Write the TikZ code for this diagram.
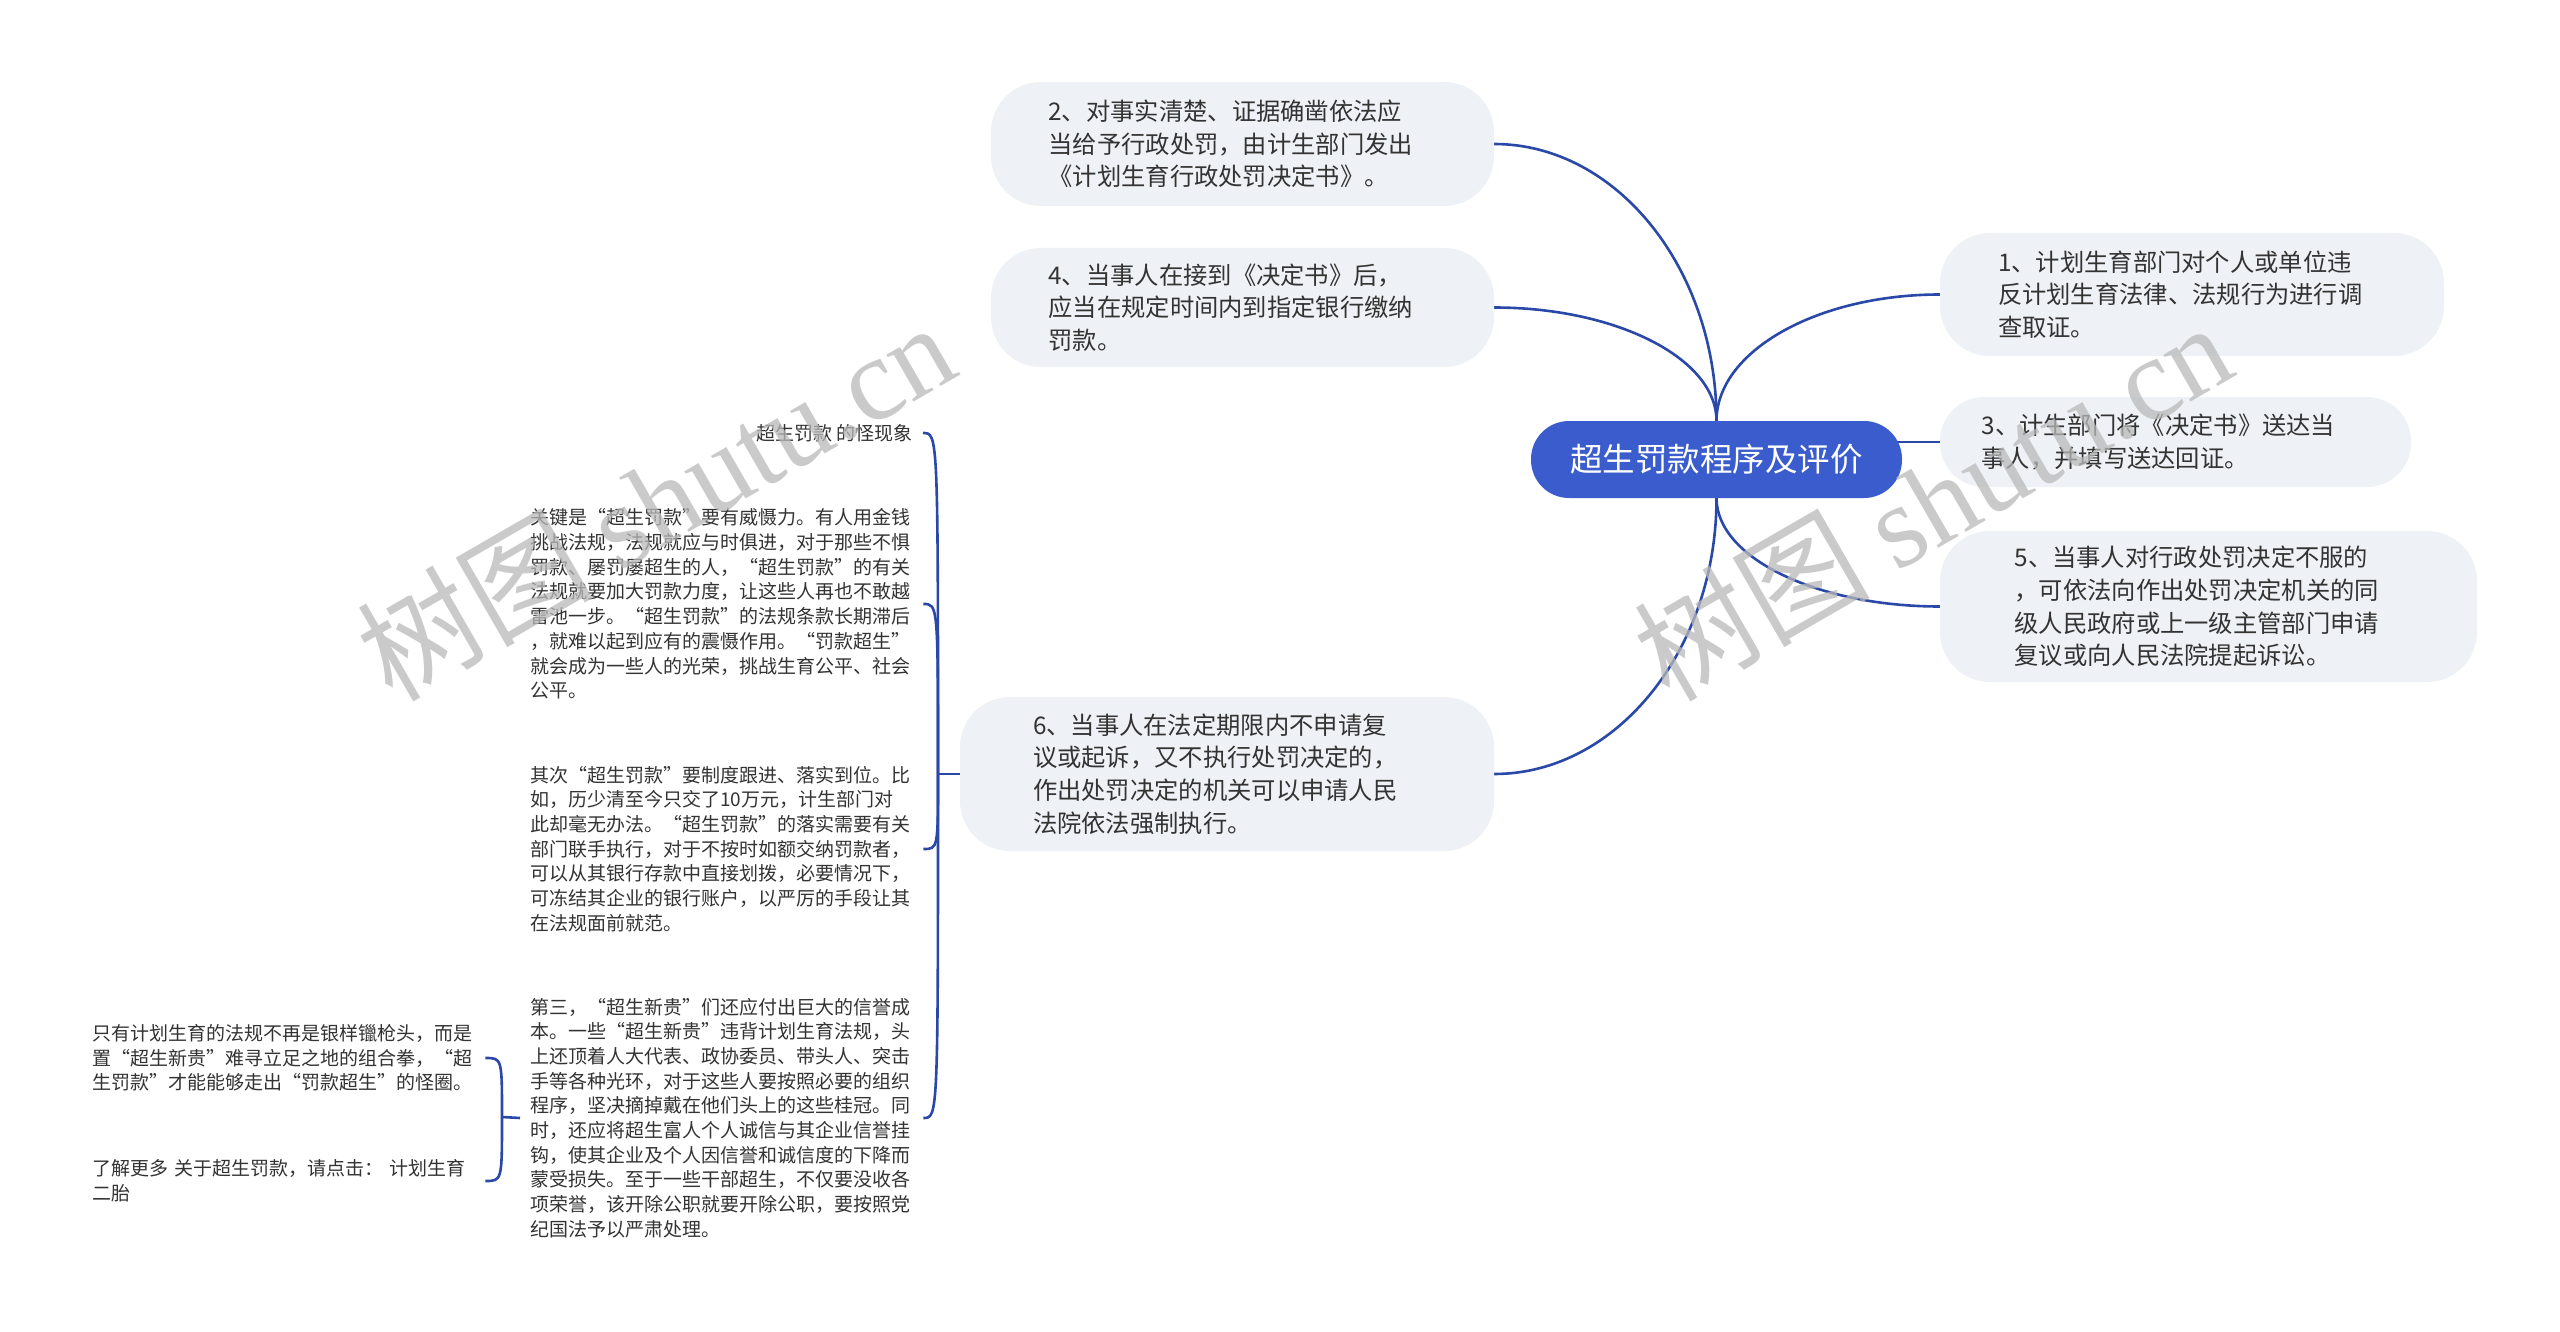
\documentclass[tikz,border=0pt]{standalone}
\usepackage{fontspec}
\setmainfont{Noto Sans CJK SC}
\newfontfamily\wmlatin{Liberation Serif}
\usetikzlibrary{backgrounds,calc}
\definecolor{linkblue}{RGB}{42,72,168}
\definecolor{rootblue}{RGB}{59,92,204}
\definecolor{boxgray}{RGB}{238,241,245}
\definecolor{txtgray}{RGB}{51,51,51}
\definecolor{wmgray}{RGB}{185,185,185}
\begin{document}
\begin{tikzpicture}[x=1pt,y=-1pt,
  link/.style={draw=linkblue,line width=2.6pt},
  topic/.style={fill=boxgray,rounded corners=50pt,text=txtgray,font=\fontsize{24.3pt}{32.7pt}\selectfont,text width=388pt,align=left,inner sep=0pt},
  leaf/.style={text=txtgray,font=\fontsize{19pt}{24.7pt}\selectfont,text width=383pt,align=left,inner sep=0pt,anchor=west},
  shortleaf/.style={text=txtgray,font=\fontsize{19pt}{24.7pt}\selectfont,inner sep=0pt,anchor=east},
  wmark/.style={text=wmgray,opacity=0.75,font=\fontsize{118pt}{118pt}\selectfont,rotate=30,inner sep=0pt}]

\begin{scope}[on background layer]
\fill[white] (0,0) rectangle (2560,1332);
\end{scope}
\useasboundingbox (0,0) rectangle (2560,1332);

% root
\node[fill=rootblue,rounded corners=38pt,minimum width=371pt,minimum height=77pt,inner sep=0pt,text=white,font=\fontsize{32.5pt}{36pt}\selectfont] (root) at (1716.5,459.5) {超生罚款程序及评价};

% main topics
\node[topic,minimum width=503pt,minimum height=124pt] (n2) at (1242.5,144) {2、对事实清楚、证据确凿依法应\\当给予行政处罚，由计生部门发出\\《计划生育行政处罚决定书》。};
\node[topic,minimum width=503pt,minimum height=119pt] (n4) at (1242.5,307.5) {4、当事人在接到《决定书》后，\\应当在规定时间内到指定银行缴纳\\罚款。};
\node[topic,minimum width=504pt,minimum height=123pt] (n1) at (2192,294.5) {1、计划生育部门对个人或单位违\\反计划生育法律、法规行为进行调\\查取证。};
\node[topic,rounded corners=44pt,minimum width=471pt,minimum height=90pt] (n3) at (2175.5,442) {3、计生部门将《决定书》送达当\\事人，并填写送达回证。};
\node[topic,minimum width=537pt,minimum height=151pt] (n5) at (2208.5,606.5) {5、当事人对行政处罚决定不服的\\，可依法向作出处罚决定机关的同\\级人民政府或上一级主管部门申请\\复议或向人民法院提起诉讼。};
\node[topic,minimum width=534pt,minimum height=154pt] (n6) at (1227,774) {6、当事人在法定期限内不申请复\\议或起诉，又不执行处罚决定的，\\作出处罚决定的机关可以申请人民\\法院依法强制执行。};

% leaves of topic 6
\node[shortleaf] (k1) at (913,433) {超生罚款 的怪现象};
\node[leaf] (k2) at (530,604) {关键是“超生罚款”要有威慑力。有人用金钱\\挑战法规，法规就应与时俱进，对于那些不惧\\罚款、屡罚屡超生的人，“超生罚款”的有关\\法规就要加大罚款力度，让这些人再也不敢越\\雷池一步。“超生罚款”的法规条款长期滞后\\，就难以起到应有的震慑作用。“罚款超生”\\就会成为一些人的光荣，挑战生育公平、社会\\公平。};
\node[leaf] (k3) at (530,849) {其次“超生罚款”要制度跟进、落实到位。比\\如，历少清至今只交了10万元，计生部门对\\此却毫无办法。“超生罚款”的落实需要有关\\部门联手执行，对于不按时如额交纳罚款者，\\可以从其银行存款中直接划拨，必要情况下，\\可冻结其企业的银行账户，以严厉的手段让其\\在法规面前就范。};
\node[leaf] (k4) at (530,1118) {第三，“超生新贵”们还应付出巨大的信誉成\\本。一些“超生新贵”违背计划生育法规，头\\上还顶着人大代表、政协委员、带头人、突击\\手等各种光环，对于这些人要按照必要的组织\\程序，坚决摘掉戴在他们头上的这些桂冠。同\\时，还应将超生富人个人诚信与其企业信誉挂\\钩，使其企业及个人因信誉和诚信度的下降而\\蒙受损失。至于一些干部超生，不仅要没收各\\项荣誉，该开除公职就要开除公职，要按照党\\纪国法予以严肃处理。};

% leaves of k4
\node[leaf] (m1) at (92,1058) {只有计划生育的法规不再是银样镴枪头，而是\\置“超生新贵”难寻立足之地的组合拳，“超\\生罚款”才能能够走出“罚款超生”的怪圈。};
\node[leaf] (m2) at (92,1181) {了解更多 关于超生罚款，请点击： 计划生育\\二胎};

\coordinate (sp) at (938,774);
\coordinate (sp2) at (502,1117);

\begin{scope}[on background layer]
\draw[link] (root.north) .. controls ($(root.north)!0.55!(root.north |- n2.east)$) and ($(n2.east)!0.55!(root.north |- n2.east)$) .. (n2.east);
\draw[link] (root.north) .. controls ($(root.north)!0.55!(root.north |- n4.east)$) and ($(n4.east)!0.55!(root.north |- n4.east)$) .. (n4.east);
\draw[link] (root.north) .. controls ($(root.north)!0.55!(root.north |- n1.west)$) and ($(n1.west)!0.55!(root.north |- n1.west)$) .. (n1.west);
\draw[link] (root.center |- n3.west) -- (n3.west);
\draw[link] (root.south) .. controls ($(root.south)!0.55!(root.south |- n5.west)$) and ($(n5.west)!0.55!(root.south |- n5.west)$) .. (n5.west);
\draw[link] (root.south) .. controls ($(root.south)!0.55!(root.south |- n6.east)$) and ($(n6.east)!0.55!(root.south |- n6.east)$) .. (n6.east);
% brace from topic 6
\draw[link] (n6.west) -- (sp);
\draw[link] (sp) .. controls (sp |- k1.east) and (sp |- k1.east) .. ($(k1.east)+(10,0)$);
\draw[link] (sp) .. controls (sp |- k2.east) and (sp |- k2.east) .. ($(k2.east)+(10,0)$);
\draw[link] (sp) .. controls (sp |- k3.east) and (sp |- k3.east) .. ($(k3.east)+(10,0)$);
\draw[link] (sp) .. controls (sp |- k4.east) and (sp |- k4.east) .. ($(k4.east)+(10,0)$);
% brace from k4
\draw[link] ($(k4.west)+(-10,0)$) -- (sp2);
\draw[link] (sp2) .. controls (sp2 |- m1.east) and (sp2 |- m1.east) .. ($(m1.east)+(10,0)$);
\draw[link] (sp2) .. controls (sp2 |- m2.east) and (sp2 |- m2.east) .. ($(m2.east)+(10,0)$);
\end{scope}

% watermarks
\node[wmark] (wm1) at (655,500) {树图 {\wmlatin shutu.cn}};
\node[wmark] (wm2) at (1932,500) {树图 {\wmlatin shutu.cn}};
\end{tikzpicture}
\end{document}
